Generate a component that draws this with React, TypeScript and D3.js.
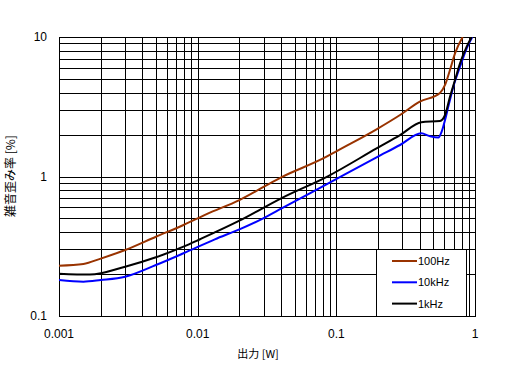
import React from "react";
import * as d3 from "d3";

const xTickValues = [0.001, 0.01, 0.1, 1];
const xTickLabels = ["0.001", "0.01", "0.1", "1"];
const yTickValues = [0.1, 1, 10];
const yTickLabels = ["0.1", "1", "10"];

const seriesNames = ["100Hz", "10kHz", "1kHz"];
const seriesColors = ["#993300", "#0000ff", "#000000"];

const x100Hz = [0.001, 0.0015, 0.002, 0.003, 0.005, 0.0079, 0.0116, 0.02, 0.04, 0.085, 0.1, 0.195, 0.288, 0.4, 0.559, 0.608, 0.66, 0.7175, 0.815];
const y100Hz = [0.2295, 0.236, 0.258, 0.297, 0.37, 0.449, 0.538, 0.678, 0.987, 1.387, 1.516, 2.18, 2.76, 3.44, 3.97, 4.53, 5.8, 7.64, 10];

const x10kHz = [0.001, 0.0015, 0.002, 0.003, 0.005, 0.0079, 0.0133, 0.02, 0.0297, 0.0403, 0.0875, 0.195, 0.288, 0.41, 0.47, 0.544, 0.575, 0.608, 0.642, 0.698, 0.78, 0.871, 0.956];
const y10kHz = [0.181, 0.1762, 0.181, 0.1913, 0.232, 0.2816, 0.3546, 0.418, 0.5016, 0.59, 0.894, 1.373, 1.682, 2.04, 1.95, 1.9, 2.095, 2.54, 3.17, 4.4, 6.12, 8.3, 10];

const x1kHz = [0.001, 0.00167, 0.003, 0.005, 0.0079, 0.0104, 0.02, 0.04, 0.0875, 0.195, 0.288, 0.41, 0.559, 0.608, 0.66, 0.7175, 0.78, 0.871, 0.946];
const y1kHz = [0.201, 0.198, 0.2256, 0.2635, 0.314, 0.355, 0.482, 0.698, 1.008, 1.59, 1.98, 2.45, 2.5, 2.76, 3.73, 4.92, 6.48, 8.52, 10];

const seriesX = [x100Hz, x10kHz, x1kHz];
const seriesY = [y100Hz, y10kHz, y1kHz];

export default function App() {
  const W = 512;
  const H = 376;
  const left = 59, right = 475, top = 37, bottom = 316;
  const xScale = d3.scaleLog().domain([0.001, 1]).range([left, right]);
  const yScale = d3.scaleLog().domain([0.1, 10]).range([bottom, top]);

  const xGrid = xScale.ticks();
  const yGrid = yScale.ticks();

  const line = d3
    .line<[number, number]>()
    .x((d) => xScale(d[0]))
    .y((d) => yScale(d[1]))
    .curve(d3.curveMonotoneX);

  const labelFont = "'Liberation Sans', Arial, sans-serif";
  const jpFont = "'Noto Sans CJK JP', sans-serif";

  return (
    <svg
      width={W}
      height={H}
      style={{ position: "absolute", left: 0, top: 0, background: "#fff" }}
    >
      <rect x={0} y={0} width={W} height={H} fill="#fff" />
      <defs>
        <clipPath id="plotClip">
          <rect x={left} y={top} width={right - left + 1} height={bottom - top + 1} />
        </clipPath>
      </defs>
      {xGrid.map((v, i) => {
        const x = Math.round(xScale(v)) + 0.5;
        return <line key={"xg" + i} x1={x} x2={x} y1={top + 0.5} y2={bottom + 0.5} stroke="#000" strokeWidth={1} />;
      })}
      {yGrid.map((v, i) => {
        const y = Math.round(yScale(v)) + 0.5;
        return <line key={"yg" + i} x1={left + 0.5} x2={right + 0.5} y1={y} y2={y} stroke="#000" strokeWidth={1} />;
      })}
      <rect x={left + 0.5} y={top + 0.5} width={right - left} height={bottom - top} fill="none" stroke="#000" strokeWidth={1} />

      <g clipPath="url(#plotClip)">
        {seriesX.map((xs, si) => {
          const pts = xs.map((xv, j) => [xv, seriesY[si][j]] as [number, number]);
          return (
            <path
              key={"s" + si}
              d={line(pts) || ""}
              fill="none"
              stroke={seriesColors[si]}
              strokeWidth={2}
              strokeLinejoin="round"
            />
          );
        })}
      </g>

      {/* Legend */}
      <rect x={376.5} y={249.5} width={90} height={67} fill="#fff" stroke="#000" strokeWidth={1} />
      {seriesNames.map((name, i) => {
        const yy = 261 + i * 21.3;
        return (
          <g key={"lg" + i}>
            <line x1={392} x2={417} y1={yy} y2={yy} stroke={seriesColors[i]} strokeWidth={2} />
            <text x={418} y={yy + 4} fontFamily={labelFont} fontSize={11} fill="#000">
              {name}
            </text>
          </g>
        );
      })}

      {xTickValues.map((v, i) => (
        <text
          key={"xt" + i}
          x={xScale(v)}
          y={338}
          textAnchor="middle"
          fontFamily={labelFont}
          fontSize={12}
          fill="#000"
        >
          {xTickLabels[i]}
        </text>
      ))}
      {yTickValues.map((v, i) => (
        <text
          key={"yt" + i}
          x={47}
          y={yScale(v) + 4}
          textAnchor="end"
          fontFamily={labelFont}
          fontSize={12}
          fill="#000"
        >
          {yTickLabels[i]}
        </text>
      ))}

      <text x={258} y={358} textAnchor="middle" fontFamily={jpFont} fontSize={11} fill="#000">
        出力 [W]
      </text>
      <text
        transform="translate(15,176) rotate(-90)"
        textAnchor="middle"
        fontFamily={jpFont}
        fontSize={12}
        fill="#000"
      >
        雑音歪み率 [%]
      </text>
    </svg>
  );
}
